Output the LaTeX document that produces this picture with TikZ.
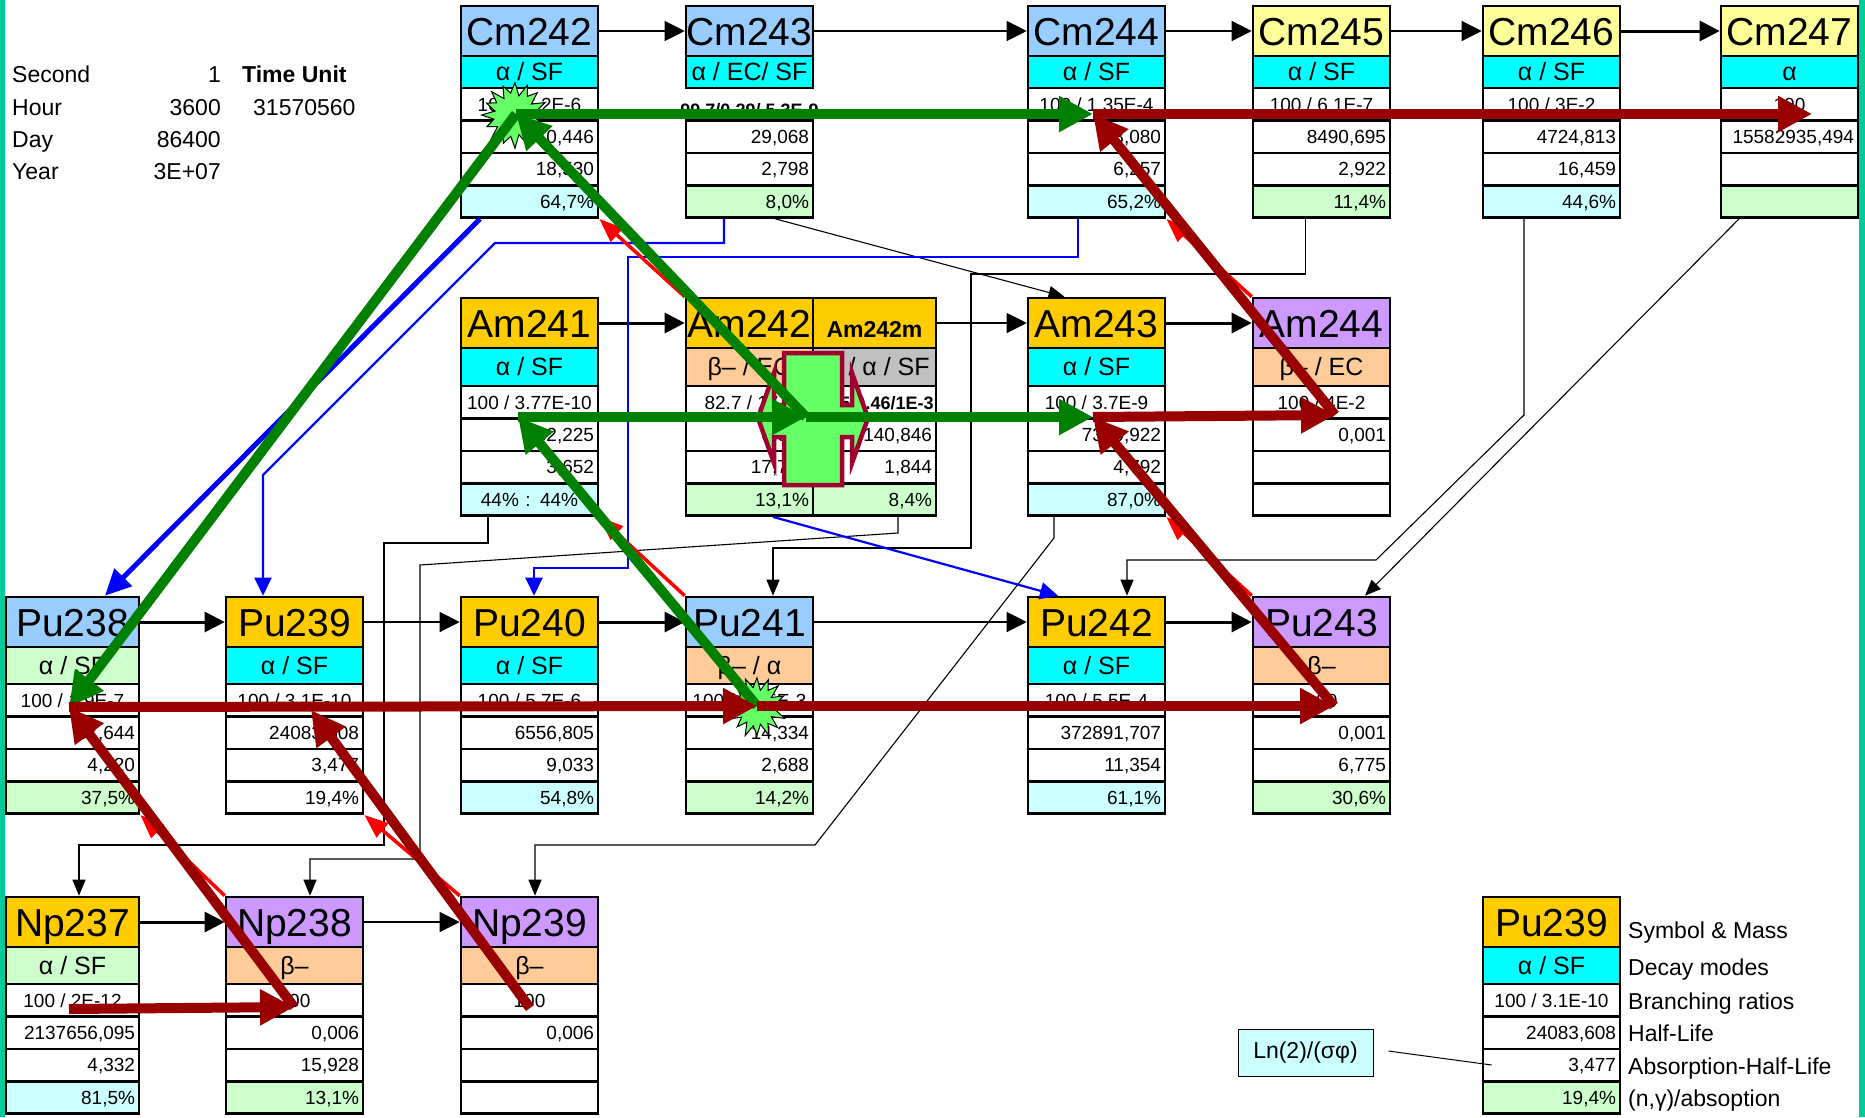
\documentclass[tikz,border=0pt]{standalone}
\usepackage{fontspec}
\setmainfont{Liberation Sans}
\usetikzlibrary{arrows.meta,calc}
\definecolor{hblue}{HTML}{99CCFF}
\definecolor{hgold}{HTML}{FFCC00}
\definecolor{hyel}{HTML}{FFFF99}
\definecolor{hpur}{HTML}{CC99FF}
\definecolor{dcyan}{HTML}{00FFFF}
\definecolor{dpeach}{HTML}{FFCC99}
\definecolor{lgreen}{HTML}{CCFFCC}
\definecolor{lcyan}{HTML}{CCFFFF}
\definecolor{dgray}{HTML}{C0C0C0}
\definecolor{pgreen}{HTML}{008000}
\definecolor{pred}{HTML}{990000}
\definecolor{starg}{HTML}{66FF66}
\definecolor{crossred}{HTML}{A00030}
\definecolor{tealc}{HTML}{00CC99}
\newcommand\isoH{\fontsize{39}{39}\selectfont}
\newcommand\isoD{\fontsize{25}{25}\selectfont}
\newcommand\isoR{\fontsize{19}{19}\selectfont}
\newcommand\isoB{\fontsize{18}{18}\selectfont\bfseries}
\newcommand\isoL{\fontsize{23}{23}\selectfont}
\newcommand\isobox[9]{%
  \def\bx{#2}\def\by{#3}\def\bw{#4}\def\bd{#5}%
  \node[cellbox, fill=#6, minimum width=#4pt, minimum height=50pt, font=\isoH, text height=28pt] (#1-h) at ({#2+#4/2},{#3+25}) {#7};
  \node[cellbox, fill=#8, minimum width=#4pt, minimum height=#5pt, font=\isoD, text height=17.5pt] (#1-d) at ({#2+#4/2},{#3+50+#5/2}) {#9};
}
\newcommand\isorows[7]{%
  \pgfmathsetmacro\tw{\bw-8}%
  \pgfmathsetmacro\ya{\by+50+\bd+16.2}%
  \node[cellbox, minimum width=\bw pt, minimum height=32.4pt, font=\isoR, text height=13.6pt, #2] (#1-r3) at ({\bx+\bw/2},\ya) {#4};
  \node[cellbox, fill=white, minimum width=\bw pt, minimum height=32.4pt, text width=\tw pt, align=right, inner xsep=4pt, font=\isoR, text height=13.6pt] (#1-r4) at ({\bx+\bw/2},{\ya+32.4}) {#5};
  \node[cellbox, fill=white, minimum width=\bw pt, minimum height=32.4pt, text width=\tw pt, align=right, inner xsep=4pt, font=\isoR, text height=13.6pt] (#1-r5) at ({\bx+\bw/2},{\ya+64.8}) {#6};
  \node[cellbox, fill=#3, minimum width=\bw pt, minimum height=32.4pt, text width=\tw pt, align=right, inner xsep=4pt, font=\isoR, text height=13.6pt] (#1-r6) at ({\bx+\bw/2},{\ya+97.2}) {#7};
}
\tikzset{
  cellbox/.style={draw, line width=2.6pt, inner sep=0pt, text depth=0pt, anchor=center},
  harrow/.style={line width=1.2pt, -{Triangle[length=20pt,width=20pt]}},
  harrowb/.style={line width=3pt, -{Triangle[length=20pt,width=20pt]}},
  conn/.style={line width=1.1pt, -{Triangle[length=16pt,width=13pt]}},
  bconn/.style={blue, line width=2.2pt, -{Triangle[length=18pt,width=17pt]}},
  bconnb/.style={blue, line width=5pt, -{Triangle[length=26pt,width=24pt]}},
  rconn/.style={red, line width=3.5pt, -{Triangle[length=24pt,width=18pt]}},
  gpath/.style={pgreen, line width=10pt, -{Triangle[length=34pt,width=34pt]}},
  rpath/.style={pred, line width=10pt, -{Triangle[length=34pt,width=34pt]}},
  lbl/.style={font=\isoL, inner sep=0pt, text height=17pt, text depth=0pt},
}
\begin{document}
\begin{tikzpicture}[x=1pt,y=-1pt]
\fill[white] (0,0) rectangle (1865,1117);
\useasboundingbox (0,0) rectangle (1865,1117);
\fill[tealc] (0,0) rectangle (5,1117);
\fill[tealc] (1859,0) rectangle (1865,1117);

% top-left table
\node[lbl, anchor=west] (tSec) at (12,74) {Second};
\node[lbl, anchor=east] (vSec) at (221,74) {1};
\node[lbl, anchor=west, font=\isoL\bfseries] (tUnit) at (242,74) {Time Unit};
\node[lbl, anchor=west] (tHour) at (12,107) {Hour};
\node[lbl, anchor=east] (vHour) at (221,107) {3600};
\node[lbl, anchor=west] (vUnit) at (253,107) {31570560};
\node[lbl, anchor=west] (tDay) at (12,139) {Day};
\node[lbl, anchor=east] (vDay) at (221,139) {86400};
\node[lbl, anchor=west] (tYear) at (12,171) {Year};
\node[lbl, anchor=east] (vYear) at (221,171) {3E+07};

% Cm row
\isobox{Cm242}{461}{6}{137}{32}{hblue}{Cm242}{dcyan}{α / SF}
\isorows{Cm242}{fill=white}{lcyan}{100 / 6.2E-6}{0,446}{18,530}{64,7\%}
\isobox{Cm243}{686}{6}{127}{32}{hblue}{Cm243}{dcyan}{α / EC/ SF}
\isorows{Cm243}{draw=none,font=\isoB,yshift=-5pt}{lgreen}{99.7/0.29/ 5.3E-9}{29,068}{2,798}{8,0\%}
\isobox{Cm244}{1028}{6}{137}{32}{hblue}{Cm244}{dcyan}{α / SF}
\isorows{Cm244}{fill=white}{lcyan}{100 / 1.35E-4}{18,080}{6,257}{65,2\%}
\isobox{Cm245}{1253}{6}{137}{32}{hyel}{Cm245}{dcyan}{α / SF}
\isorows{Cm245}{fill=white}{lgreen}{100 / 6.1E-7}{8490,695}{2,922}{11,4\%}
\isobox{Cm246}{1483}{6}{137}{32}{hyel}{Cm246}{dcyan}{α / SF}
\isorows{Cm246}{fill=white}{lcyan}{100 / 3E-2}{4724,813}{16,459}{44,6\%}
\isobox{Cm247}{1721}{6}{137}{32}{hyel}{Cm247}{dcyan}{α}
\isorows{Cm247}{fill=white}{lgreen}{100}{15582935,494}{}{}

% Am row
\isobox{Am241}{461}{298}{137}{38}{hgold}{Am241}{dcyan}{α / SF}
\isorows{Am241}{fill=white}{lcyan}{100 / 3.77E-10}{432,225}{3,652}{\makebox[\tw pt]{44\% : 44\%}}
\isobox{Am242}{686}{298}{127}{38}{hgold}{Am242}{dpeach}{β– / EC}
\isorows{Am242}{fill=white}{lgreen}{82.7 / 17.3}{0,002}{17,752}{13,1\%}
\isobox{Am242m}{813}{298}{123}{38}{hgold}{\fontsize{23}{23}\selectfont\bfseries Am242m}{dgray}{IT / α / SF}
\isorows{Am242m}{fill=white,font=\isoB}{lgreen}{99.5/0.46/1E-3}{140,846}{1,844}{8,4\%}
\isobox{Am243}{1028}{298}{137}{38}{hgold}{Am243}{dcyan}{α / SF}
\isorows{Am243}{fill=white}{lcyan}{100 / 3.7E-9}{7370,922}{4,792}{87,0\%}
\isobox{Am244}{1253}{298}{137}{38}{hpur}{Am244}{dpeach}{β– / EC}
\isorows{Am244}{fill=white}{white}{100 / 4E-2}{0,001}{}{}

% Pu row
\isobox{Pu238}{6}{597}{133}{37}{hblue}{Pu238}{lgreen}{α / SF}
\isorows{Pu238}{fill=white}{lgreen}{100 / 1.9E-7}{87,644}{4,220}{37,5\%}
\isobox{Pu239}{226}{597}{137}{37}{hgold}{Pu239}{dcyan}{α / SF}
\isorows{Pu239}{fill=white}{white}{100 / 3.1E-10}{24083,608}{3,477}{19,4\%}
\isobox{Pu240}{461}{597}{137}{37}{hgold}{Pu240}{dcyan}{α / SF}
\isorows{Pu240}{fill=white}{lcyan}{100 / 5.7E-6}{6556,805}{9,033}{54,8\%}
\isobox{Pu241}{686}{597}{127}{37}{hblue}{Pu241}{dpeach}{β– / α}
\isorows{Pu241}{fill=white}{lgreen}{100 / 2.45E-3}{14,334}{2,688}{14,2\%}
\isobox{Pu242}{1028}{597}{137}{37}{hgold}{Pu242}{dcyan}{α / SF}
\isorows{Pu242}{fill=white}{lcyan}{100 / 5.5E-4}{372891,707}{11,354}{61,1\%}
\isobox{Pu243}{1253}{597}{137}{37}{hpur}{Pu243}{dpeach}{β–}
\isorows{Pu243}{fill=white}{lgreen}{100}{0,001}{6,775}{30,6\%}

% Np row
\isobox{Np237}{6}{897}{133}{37}{hgold}{Np237}{lgreen}{α / SF}
\isorows{Np237}{fill=white}{lcyan}{100 / 2E-12}{2137656,095}{4,332}{81,5\%}
\isobox{Np238}{226}{897}{137}{37}{hpur}{Np238}{dpeach}{β–}
\isorows{Np238}{fill=white}{lgreen}{100}{0,006}{15,928}{13,1\%}
\isobox{Np239}{461}{897}{137}{37}{hpur}{Np239}{dpeach}{β–}
\isorows{Np239}{fill=white}{white}{100}{0,006}{}{}

% legend
\isobox{Lg}{1483}{897}{137}{37}{hgold}{Pu239}{dcyan}{α / SF}
\isorows{Lg}{fill=white}{lgreen}{100 / 3.1E-10}{24083,608}{3,477}{19,4\%}
\node[lbl, anchor=west] (lg1) at (1628,930) {Symbol \& Mass};
\node[lbl, anchor=west] (lg2) at (1628,967) {Decay modes};
\node[lbl, anchor=west] (lg3) at (1628,1001) {Branching ratios};
\node[lbl, anchor=west] (lg4) at (1628,1033) {Half-Life};
\node[lbl, anchor=west] (lg5) at (1628,1066) {Absorption-Half-Life};
\node[lbl, anchor=west] (lg6) at (1628,1098) {(n,γ)/absoption};
\node[draw, line width=0.8pt, fill=lcyan, minimum width=135pt, minimum height=47pt, font=\isoL, inner sep=0pt] (lnbox) at (1305.5,1053) {Ln(2)/(σφ)};
\draw[line width=1pt] ($(lnbox.east)+(15,-2)$) -- ($(Lg-r5.west)+(10,0)$);

% horizontal capture arrows
\draw[harrow] (Cm242-h.east) -- (Cm243-h.west);
\draw[harrow] (Cm243-h.east) -- (Cm244-h.west);
\draw[harrow] (Cm244-h.east) -- (Cm245-h.west);
\draw[harrow] (Cm245-h.east) -- (Cm246-h.west);
\draw[harrowb] (Cm246-h.east) -- (Cm247-h.west);
\draw[harrowb] (Am241-h.east) -- (Am242-h.west);
\draw[harrow] (Am242m-h.east) -- (Am243-h.west);
\draw[harrowb] (Am243-h.east) -- (Am244-h.west);
\draw[harrowb] (Pu238-h.east) -- (Pu239-h.west);
\draw[harrow] (Pu239-h.east) -- (Pu240-h.west);
\draw[harrowb] (Pu240-h.east) -- (Pu241-h.west);
\draw[harrow] (Pu241-h.east) -- (Pu242-h.west);
\draw[harrowb] (Pu242-h.east) -- (Pu243-h.west);
\draw[harrowb] (Np237-h.east) -- (Np238-h.west);
\draw[harrow] (Np238-h.east) -- (Np239-h.west);

% thin black decay connectors
\draw[conn] ($(Cm243-r6.south)+(26,0)$) -- ($(Am243-h.north)+(-32,0)$);
\draw[conn] ($(Cm245-r6.south)+(-16,0)$) |- (971,274) |- (773,548) -- ($(Pu241-h.north)+(23.5,0)$);
\draw[conn] ($(Cm246-r6.south)+(-27.5,0)$) -- (1524,415) -- (1376,560) -| ($(Pu242-h.north)+(30.5,0)$);
\draw[conn] ($(Cm247-r6.south)+(-50.5,0)$) -- ($(Pu243-h.north)+(43.5,0)$);
\draw[conn] ($(Am241-r6.south)+(-41.5,0)$) |- (384,543) |- (79,845) -- ($(Np237-h.north)+(6.5,0)$);
\draw[conn] ($(Am242m-r6.south)+(23.5,0)$) -- (898,533) -- (420,565) |- (310,859) -- ($(Np238-h.north)+(15.5,0)$);
\draw[conn] ($(Am243-r6.south)+(-42.5,0)$) -- (1054,538) -- (815,845) -| ($(Np239-h.north)+(5.5,0)$);

% blue connectors
\draw[bconnb] ($(Cm242-r6.south)+(-49.5,0)$) -- ($(Pu238-h.north)+(32.5,0)$);
\draw[bconn] ($(Cm243-r6.south)+(-25.5,0)$) |- (495,243) -- (263,475) -- ($(Pu239-h.north)+(-31.5,0)$);
\draw[bconn] ($(Cm244-r6.south)+(-18.5,0)$) |- (628,257) |- (534,568) -- ($(Pu240-h.north)+(4.5,0)$);
\draw[bconn] ($(Am242-r6.south)+(23.5,0)$) -- ($(Pu242-h.north)+(-38.5,0)$);

% red beta connectors
\draw[rconn] (Am242-h.north west) -- (Cm242-r6.south east);
\draw[rconn] (Pu241-h.north west) -- (Am241-r6.south east);
\draw[rconn] (Am244-h.north west) -- (Cm244-r6.south east);
\draw[rconn] (Pu243-h.north west) -- (Am243-r6.south east);
\draw[rconn] (Np238-h.north west) -- (Pu238-r6.south east);
\draw[rconn] (Np239-h.north west) -- (Pu239-r6.south east);

% cross on Am242
\filldraw[fill=starg, draw=crossred, line width=4.5pt, line join=miter]
  (784,353) -- (842,353) -- (842,405) -- (852,405) -- (852,373) -- (868,418) -- (852,463) -- (852,437) -- (842,437) -- (842,485) -- (784,485) -- (784,437) -- (774,437) -- (774,463) -- (758,418) -- (774,373) -- (774,405) -- (784,405) -- cycle;

% explosion stars
\filldraw[fill=starg, draw=black, line width=1pt] plot[variable=\k, samples at={0,...,31}] ({515+(26.5+5.5*cos(180*\k)+1.5*sin(97*\k))*cos(11.25*\k)},{115+(26.5+5.5*cos(180*\k)+1.5*sin(97*\k))*sin(11.25*\k)}) -- cycle;
\filldraw[fill=starg, draw=black, line width=1pt] plot[variable=\k, samples at={0,...,31}] ({757+(24+5.5*cos(180*\k)+1.5*sin(83*\k))*cos(11.25*\k)},{707+(24+5.5*cos(180*\k)+1.5*sin(83*\k))*sin(11.25*\k)}) -- cycle;

% path points
\coordinate (pCm242) at (516,114);
\coordinate (pCm244) at (1093,114);
\coordinate (pCm247) at (1812,114);
\coordinate (pAm241) at (518,417);
\coordinate (pAm242) at (806,417);
\coordinate (pAm243) at (1093,417);
\coordinate (pAm244) at (1335,415);
\coordinate (pPu238) at (69,707);
\coordinate (pPu239) at (311,710);
\coordinate (pPu241) at (757,706);
\coordinate (pPu243) at (1334,706);
\coordinate (pNp237) at (69,1009);
\coordinate (pNp238) at (294,1007);
\coordinate (pNp239) at (530,1008);

% green paths
\draw[gpath] (pCm242) -- (pCm244);
\draw[gpath] (pCm242) -- (pPu238);
\draw[gpath] (pAm242) -- (pCm242);
\draw[gpath] (pPu241) -- (pAm241);
\draw[gpath] (pAm241) -- (pAm242);
\draw[gpath] (pAm242) -- (pAm243);

% dark red paths
\draw[rpath] (pCm244) -- (pCm247);
\draw[rpath] (pAm244) -- (pCm244);
\draw[rpath] (pAm243) -- (pAm244);
\draw[rpath] (pPu243) -- (pAm243);
\draw[rpath] (pPu238) -- (pPu241);
\draw[rpath] (pPu241) -- (pPu243);
\draw[rpath] (pNp237) -- (pNp238);
\draw[rpath] (pNp238) -- (pPu238);
\draw[rpath] (pNp239) -- (pPu239);
\end{tikzpicture}
\end{document}
